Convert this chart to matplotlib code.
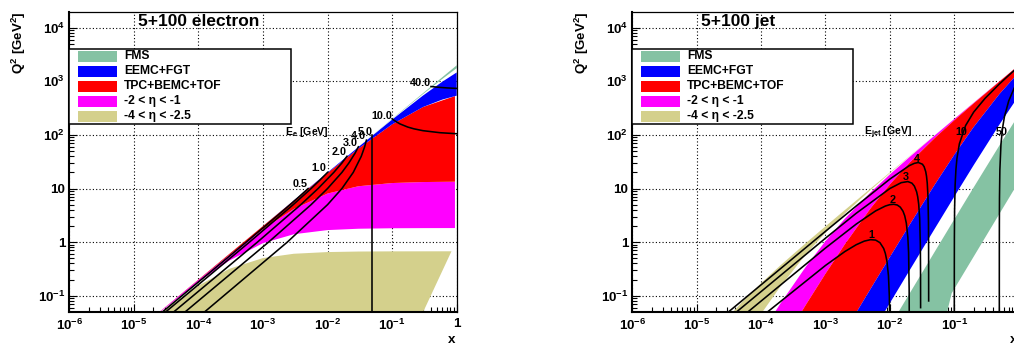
import matplotlib
matplotlib.use('Agg')
import matplotlib.pyplot as plt
from matplotlib.patches import Rectangle
from matplotlib.ticker import FixedLocator, NullFormatter

plt.rcParams['font.family'] = ['Liberation Sans', 'DejaVu Sans']
plt.rcParams['font.weight'] = 'bold'
plt.rcParams['mathtext.fontset'] = 'custom'
plt.rcParams['mathtext.rm'] = 'Liberation Sans:bold'
plt.rcParams['mathtext.bf'] = 'Liberation Sans:bold'
plt.rcParams['mathtext.it'] = 'Liberation Sans:bold'
plt.rcParams['mathtext.default'] = 'bf'

# ---------------- data: electron panel ----------------
e_x = [1e-5, 2.5e-5, 1e-4, 3e-4, 1e-3, 3e-3, 1e-2, 3e-2, 0.1, 0.3, 0.94]
e_q2_eta_m2 = [0.0198, 0.0487, 0.180, 0.452, 0.956, 1.402, 1.676, 1.776, 1.813, 1.824, 1.829]
e_q2_eta_m1 = [0.0200, 0.0498, 0.197, 0.574, 1.742, 4.154, 8.06, 11.02, 12.65, 13.20, 13.40]
e_q2_eta_p1 = [0.0200, 0.0500, 0.200, 0.5995, 1.995, 5.95, 19.47, 55.5, 157.4, 331, 530]

e_xb = [1e-5, 1e-3, 1e-2, 3e-2, 0.1, 0.3, 0.6, 1.0]
e_q2b_eta_p1 = [0.02, 1.995, 19.47, 55.5, 157.4, 331, 457, 540]
e_q2b_eta_p2 = [0.02, 2.0, 19.93, 59.3, 192.9, 540.6, 984, 1464]

e_xf = [0.03, 0.1, 0.3, 0.6, 1.0]
e_q2f_eta_p4 = [60, 199.9, 598.8, 1195, 1987]
e_q2f_eta_p25 = [59.76, 197.3, 576.7, 1110, 1762]

e_khaki_x = [1e-5, 2.5e-5, 1e-4, 3e-4, 1e-3, 3e-3, 1e-2, 3e-2, 0.1, 0.3, 0.83, 0.303, 0.213]
e_khaki_q2 = [0.0194, 0.0465, 0.154, 0.317, 0.504, 0.606, 0.652, 0.667, 0.672, 0.673, 0.674, 0.05, 0.02]

ee05_x = [1.11e-5, 2.78e-5, 1.11e-4, 5.5e-4, 1.61e-3, 2.63e-3, 3.61e-3, 5e-3]
ee05_q2 = [0.02, 0.05, 0.2, 1.0, 3.0, 5.0, 7.0, 10.0]
ee1_x = [1.25e-5, 3.12e-5, 6.17e-4, 2.94e-3, 5.56e-3, 7.89e-3, 0.01]
ee1_q2 = [0.02, 0.05, 1.0, 5.0, 10.0, 15.0, 20.0]
ee2_x = [1.67e-5, 4.16e-5, 8.2e-4, 3.85e-3, 7.14e-3, 0.0125, 0.0167, 0.02]
ee2_q2 = [0.02, 0.05, 1.0, 5.0, 10.0, 20.0, 30.0, 40.0]
ee3_x = [2.5e-5, 6.24e-5, 1.22e-3, 5.56e-3, 0.01, 0.0167, 0.0214, 0.0265, 0.03]
ee3_q2 = [0.02, 0.05, 1.0, 5.0, 10.0, 20.0, 30.0, 45.0, 60.0]
ee4_x = [5e-5, 1.25e-4, 2.38e-3, 0.01, 0.0167, 0.025, 0.0333, 0.0375, 0.04]
ee4_q2 = [0.02, 0.05, 1.0, 5.0, 10.0, 20.0, 40.0, 60.0, 80.0]
ee5_x = [0.0493, 0.0493]
ee5_q2 = [0.02, 100.0]
ee10_x = [0.1, 0.1056, 0.1125, 0.133, 0.175, 0.217, 0.3, 0.55, 1.0]
ee10_q2 = [200, 190, 180, 160, 140, 130, 120, 110, 105.2]
ee40_x = [0.4, 0.467, 0.565, 0.723, 1.0]
ee40_q2 = [800, 784, 768, 752, 737]

e_labels = ['0.5', '1.0', '2.0', '3.0', '4.0', '5.0', '10.0', '40.0']

# ---------------- data: jet panel ----------------
j_x_eta_m4 = [3e-5, 5e-5, 1e-4, 2e-4, 5e-4, 1e-3, 2e-3, 5e-3, 1e-2, 1.0]
j_q2_eta_m4 = [0.0385, 0.0749, 0.1713, 0.369, 0.9675, 1.967, 3.968, 9.967, 19.97, 2000]
j_x_eta_m25 = [5e-5, 1e-4, 2e-4, 5e-4, 1e-3, 2e-3, 5e-3, 1e-2, 2e-2, 5e-2, 0.1, 1.0]
j_q2_eta_m25 = [0.01293, 0.0458, 0.149, 0.5975, 1.496, 3.423, 9.37, 19.35, 39.34, 99.33, 199.3, 1999]
j_x_eta_m2 = [5e-5, 1e-4, 2e-4, 5e-4, 1e-3, 2e-3, 5e-3, 1e-2, 2e-2, 5e-2, 0.1, 1.0]
j_q2_eta_m2 = [0.00518, 0.01969, 0.0717, 0.3532, 1.044, 2.744, 8.452, 18.32, 38.25, 98.2, 198.2, 1998]
j_x_eta_m1 = [2e-4, 5e-4, 1e-3, 2e-3, 5e-3, 1e-2, 2e-2, 5e-2, 0.1, 0.2, 0.5, 1.0]
j_q2_eta_m1 = [0.01148, 0.0688, 0.2575, 0.9126, 4.249, 11.93, 29.88, 88.08, 187.3, 386.9, 986.6, 1986]
j_x_eta_p1 = [2e-3, 5e-3, 1e-2, 2e-2, 5e-2, 0.1, 0.2, 0.5, 1.0]
j_q2_eta_p1 = [0.02154, 0.1335, 0.5271, 2.054, 11.92, 42.6, 140.5, 575.2, 1460]
j_x_eta_p2 = [5e-3, 1e-2, 2e-2, 5e-2, 0.1, 0.2, 0.5, 1.0]
j_q2_eta_p2 = [0.01828, 0.073, 0.2909, 1.799, 7.067, 27.3, 154.8, 536.2]
j_x_eta_p25 = [1e-2, 2e-2, 5e-2, 0.1, 0.2, 0.5, 1.0]
j_q2_eta_p25 = [0.02692, 0.1075, 0.6693, 2.659, 10.50, 63.12, 237.5]
j_x_eta_p4 = [0.074, 0.091, 0.2, 0.5, 1.0]
j_q2_eta_p4 = [0.04, 0.111, 0.536, 3.344, 13.33]

ej1_x = [5e-5, 1.25e-4, 1e-3, 2e-3, 3e-3, 4e-3, 5e-3, 6e-3, 7e-3, 8e-3, 8.5e-3, 9e-3, 9.5e-3, 9.8e-3, 9.95e-3]
ej1_q2 = [0.02, 0.0495, 0.367, 0.667, 0.894, 1.043, 1.11, 1.091, 0.977, 0.762, 0.614, 0.439, 0.235, 0.0975, 0.0249]
ej2_x = [2.5e-5, 6.25e-5, 1e-3, 3e-3, 6e-3, 8.5e-3, 0.01, 0.0115, 0.013, 0.0145, 0.016, 0.017, 0.018, 0.019, 0.0195, 0.0199, 0.01996]
ej2_q2 = [0.02, 0.0499, 0.776, 2.17, 3.82, 4.71, 5.0, 5.08, 4.92, 4.49, 3.76, 3.09, 2.25, 1.226, 0.639, 0.132, 0.053]
ej3_x = [1.67e-5, 4.17e-5, 1e-3, 3e-3, 0.01, 0.015, 0.019, 0.022, 0.024, 0.026, 0.027, 0.028, 0.029, 0.0297, 0.0299, 0.02998]
ej3_q2 = [0.02, 0.05, 1.184, 3.45, 10.0, 12.86, 13.48, 12.57, 11.08, 8.67, 7.04, 5.09, 2.76, 0.878, 0.2975, 0.0599]
ej4_x = [1.25e-5, 3.125e-5, 1e-3, 3e-3, 0.01, 0.02, 0.024, 0.0276, 0.032, 0.034, 0.036, 0.037, 0.038, 0.039, 0.0397, 0.0399, 0.03999]
ej4_q2 = [0.02, 0.05, 1.592, 4.72, 15.0, 26.7, 29.5, 30.56, 28.4, 25.5, 20.6, 17.08, 12.67, 7.09, 2.31, 0.79, 0.0799]
ej10_x = [0.100005, 0.10002, 0.10005, 0.1001, 0.1003, 0.101, 0.103, 0.106, 0.11, 0.12, 0.15, 0.2, 0.3, 0.5, 0.7, 1.0]
ej10_q2 = [0.02, 0.08, 0.2, 0.4, 1.196, 3.96, 11.66, 22.7, 36.7, 68.6, 150, 266.7, 480, 889, 1292, 1895]
ej50_x = [0.500009, 0.50002, 0.5001, 0.5003, 0.501, 0.503, 0.51, 0.53, 0.56, 0.6, 0.7, 0.85, 1.0]
ej50_q2 = [0.02, 0.0444, 0.222, 0.667, 2.22, 6.66, 22.2, 66.3, 131.8, 218, 431, 744, 1053]

j_labels = ['1', '2', '3', '4', '10', '50']

legend_labels = ['FMS', 'EEMC+FGT', 'TPC+BEMC+TOF', '-2 < \u03b7 < -1', '-4 < \u03b7 < -2.5']

# ---------------- styles ----------------
C_FMS = '#85c2a3'
C_EEMC = '#0000ff'
C_TPC = '#ff0000'
C_MAG = '#ff00ff'
C_KHA = '#d4d08c'
legend_colors = [C_FMS, C_EEMC, C_TPC, C_MAG, C_KHA]

W, H = 1014, 344
fig = plt.figure(figsize=(W / 100, H / 100), dpi=100)
ax1 = fig.add_axes([69.3 / W, 32.3 / H, 387.4 / W, 300 / H])
ax2 = fig.add_axes([632.3 / W, 32.3 / H, 386.4 / W, 300 / H])


def band(ax, xu, yu, xl, yl, color):
    xs = list(xu) + list(reversed(xl))
    ys = list(yu) + list(reversed(yl))
    ax.fill(xs, ys, color=color, lw=0, zorder=1)


def style_axes(ax, title, xlab_px):
    ax.set_xscale('log')
    ax.set_yscale('log')
    ax.set_xlim(1e-6, 1)
    ax.set_ylim(0.0503, 1.99e4)
    xt = [1e-6, 1e-5, 1e-4, 1e-3, 1e-2, 1e-1, 1]
    xl = [r'$10^{-6}$', r'$10^{-5}$', r'$10^{-4}$', r'$10^{-3}$', r'$10^{-2}$', r'$10^{-1}$', '1']
    yt = [0.1, 1, 10, 100, 1000, 1e4]
    yl = [r'$10^{-1}$', '1', '10', r'$10^{2}$', r'$10^{3}$', r'$10^{4}$']
    ax.xaxis.set_major_locator(FixedLocator(xt))
    ax.set_xticklabels(xl)
    ax.yaxis.set_major_locator(FixedLocator(yt))
    ax.set_yticklabels(yl)
    xm = [m * 10.0 ** e for e in range(-6, 0) for m in range(2, 10)]
    ym = [m * 10.0 ** e for e in range(-2, 5) for m in range(2, 10)]
    ax.xaxis.set_minor_locator(FixedLocator(xm))
    ax.yaxis.set_minor_locator(FixedLocator(ym))
    ax.xaxis.set_minor_formatter(NullFormatter())
    ax.yaxis.set_minor_formatter(NullFormatter())
    ax.tick_params(which='both', direction='in', top=False, right=False,
                   labelsize=9.6, width=0.8)
    ax.tick_params(which='major', length=6)
    ax.tick_params(which='minor', length=3.6)
    ax.tick_params(axis='x', pad=4.5)
    ax.tick_params(axis='y', pad=3)
    ax.grid(True, which='major', color='black', lw=0.8, linestyle=(0, (1, 2)))
    ax.set_axisbelow(True)
    for s in ['left', 'bottom']:
        ax.spines[s].set_linewidth(1.5)
    for s in ['top', 'right']:
        ax.spines[s].set_linewidth(0.9)
    for s in ax.spines.values():
        s.set_zorder(5)
    ax.text(0.178, 0.967, title, transform=ax.transAxes, fontsize=12.5,
            fontweight='bold', ha='left', va='center', zorder=6)
    # legend box
    ax.add_patch(Rectangle((0.0, 0.6257), 0.5715, 0.249, transform=ax.transAxes,
                           facecolor='white', edgecolor='black', lw=1.1, zorder=6))
    rows = [0.851, 0.801, 0.751, 0.701, 0.651]
    for r, c, lab in zip(rows, legend_colors, legend_labels):
        ax.add_patch(Rectangle((0.0217, r - 0.0178), 0.1006, 0.0356, transform=ax.transAxes,
                               facecolor=c, edgecolor='none', zorder=7))
        ax.text(0.142, r, lab, transform=ax.transAxes, fontsize=8.7, fontweight='bold',
                ha='left', va='center', zorder=7)
    fig.text(xlab_px / W, 1 - 11.7 / H, r'$Q^{2}\ [GeV^{2}]$', rotation=90,
             ha='center', va='top', fontsize=9.6)


# ---------------- electron panel ----------------
style_axes(ax1, '5+100 electron', 18.5)
ax1.fill(e_khaki_x, e_khaki_q2, color=C_KHA, lw=0, zorder=1)
band(ax1, e_x, e_q2_eta_m1, e_x, e_q2_eta_m2, C_MAG)
band(ax1, e_x, e_q2_eta_p1, e_x, e_q2_eta_m1, C_TPC)
band(ax1, e_xb, e_q2b_eta_p2, e_xb, e_q2b_eta_p1, C_EEMC)
band(ax1, e_xf, e_q2f_eta_p4, e_xf, e_q2f_eta_p25, C_FMS)

for xs, ys in [(ee05_x, ee05_q2), (ee1_x, ee1_q2), (ee2_x, ee2_q2), (ee3_x, ee3_q2),
               (ee4_x, ee4_q2), (ee5_x, ee5_q2), (ee10_x, ee10_q2), (ee40_x, ee40_q2)]:
    ax1.plot(xs, ys, color='black', lw=1.15, zorder=3, solid_joinstyle='round')

e_label_pos = [(3.74e-3, 11.9), (7.45e-3, 23.7), (0.0152, 47.1), (0.0222, 69.4),
               (0.0299, 95), (0.0379, 114), (0.0703, 227), (0.277, 937)]
for (px, py), lab in zip(e_label_pos, e_labels):
    ax1.text(px, py, lab, fontsize=7.8, fontweight='bold', ha='center', va='center', zorder=4)
ax1.text(4.75e-3, 111, r'$E_{e}$ [GeV]', fontsize=7.6, fontweight='bold',
         ha='center', va='center', zorder=4)
fig.text(451.7 / W, 1 - 340 / H, 'x', fontsize=9.6, fontweight='bold', ha='center', va='center')

# ---------------- jet panel ----------------
style_axes(ax2, '5+100 jet', 581.7)
band(ax2, j_x_eta_m4, j_q2_eta_m4, j_x_eta_m25, j_q2_eta_m25, C_KHA)
band(ax2, j_x_eta_m2, j_q2_eta_m2, j_x_eta_m1, j_q2_eta_m1, C_MAG)
band(ax2, j_x_eta_m1, j_q2_eta_m1, j_x_eta_p1, j_q2_eta_p1, C_TPC)
band(ax2, j_x_eta_p1, j_q2_eta_p1, j_x_eta_p2, j_q2_eta_p2, C_EEMC)
band(ax2, j_x_eta_p25, j_q2_eta_p25, j_x_eta_p4, j_q2_eta_p4, C_FMS)

for xs, ys in [(ej1_x, ej1_q2), (ej2_x, ej2_q2), (ej3_x, ej3_q2), (ej4_x, ej4_q2),
               (ej10_x, ej10_q2), (ej50_x, ej50_q2)]:
    ax2.plot(xs, ys, color='black', lw=1.15, zorder=3, solid_joinstyle='round')

j_label_pos = [(5.21e-3, 1.35), (0.0110, 6.08), (0.0178, 16.5), (0.0266, 34.9),
               (0.130, 114), (0.544, 114)]
for (px, py), lab in zip(j_label_pos, j_labels):
    ax2.text(px, py, lab, fontsize=7.8, fontweight='bold', ha='center', va='center', zorder=4)
ax2.text(9.44e-3, 111, r'$E_{jet}$ [GeV]', fontsize=7.6, fontweight='bold',
         ha='center', va='center', zorder=4)
fig.text(1013.7 / W, 1 - 340 / H, 'x', fontsize=9.6, fontweight='bold', ha='center', va='center')

fig.savefig('out.png', dpi=100)
